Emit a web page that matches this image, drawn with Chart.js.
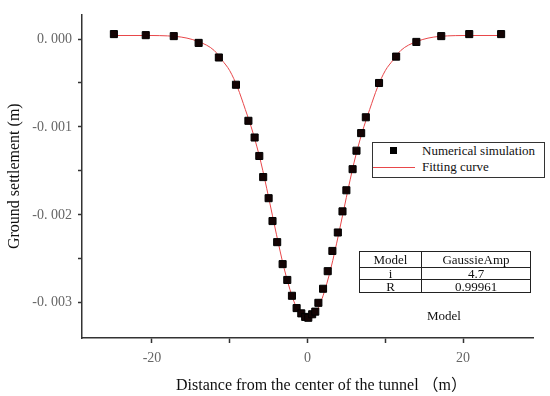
<!DOCTYPE html>
<html>
<head>
<meta charset="utf-8">
<script src="https://cdn.jsdelivr.net/npm/chart.js@4"></script>
<style>
  body { margin: 0; background: #fff; }
  #wrap { position: relative; width: 550px; height: 396px; }
  #grafico { position: absolute; left: 0; top: 0; }
  .serif { font-family: "Liberation Serif", "Noto Sans CJK SC", serif; color: #111; }
  #leyenda {
    position: absolute; left: 372px; top: 142px; width: 171px; height: 34px;
    border: 1px solid #333; background: #fff; font-size: 13px;
  }
  #leyenda .fila { position: absolute; left: 0; height: 16px; line-height: 16px; width: 100%; }
  #leyenda .txt { position: absolute; left: 49px; top: 0; white-space: nowrap; }
  #leyenda .cuadro { position: absolute; left: 17px; top: 4px; width: 7px; height: 7px; background: #000; }
  #leyenda .linea { position: absolute; left: 0; top: 8px; width: 42px; height: 0; border-top: 1px solid #e8474a; }
  #tabla {
    position: absolute; left: 359px; top: 251px; border-collapse: collapse; font-size: 13px;
  }
  #tabla td { border: 1.5px solid #222; padding: 0; text-align: center; line-height: 11px; }
  #modelo { position: absolute; left: 427px; top: 308px; font-size: 13px; }
  #tituloX { position: absolute; left: 176px; top: 371px; font-size: 16px; white-space: nowrap; }
</style>
</head>
<body>
<div id="wrap">
  <canvas id="grafico" width="550" height="396"></canvas>
  <div id="leyenda" class="serif"></div>
  <table id="tabla" class="serif">
    <tr style="height:16px"><td style="width:61px">Model</td><td style="width:108px">GaussieAmp</td></tr>
    <tr style="height:12px"><td>i</td><td>4.7</td></tr>
    <tr style="height:13px"><td>R</td><td>0.99961</td></tr>
  </table>
  <div id="modelo" class="serif">Model</div>
  <div id="tituloX" class="serif">Distance from the center of the tunnel （m）</div>
</div>
<script>
// Simulación numérica (distancia en m, asentamiento en m)
const distancias = [-24.9, -20.8, -17.2, -14.0, -11.4, -9.2, -7.6, -6.8, -6.2, -5.7,
    -5.0, -4.5, -3.9, -3.2, -2.6, -2.0, -1.4, -0.8, -0.3, 0.1,
    0.6, 1.0, 1.4, 2.0, 2.6, 3.2, 3.9, 4.5, 5.0, 5.8,
    6.3, 6.9, 7.5, 9.2, 11.4, 14.0, 17.2, 20.8, 24.9];
const asentamientos = [0.000056, 0.000044, 0.000033, -0.000044, -0.00021, -0.00052, -0.00093, -0.00112, -0.00133, -0.00157,
    -0.00181, -0.00207, -0.00231, -0.00256, -0.00274, -0.00292, -0.00306, -0.00312, -0.00316, -0.00317,
    -0.00313, -0.00310, -0.00300, -0.00284, -0.00264, -0.00241, -0.00220, -0.00196, -0.00172, -0.00148,
    -0.00127, -0.00107, -0.00089, -0.00050, -0.00020, -0.000033, 0.000033, 0.000056, 0.000056];

// Curva de ajuste
const ajusteX = [-25, -21, -17, -14, -12, -11, -10, -9, -8, -7, -6, -5, -4, -3, -2, -1, 0,
    1, 2, 3, 4, 5, 6, 7, 8, 9, 10, 11, 12, 14, 17, 21, 25];
const ajusteY = [0.00004, 0.00004, 0.00003, -0.00003, -0.00013, -0.00024, -0.00036, -0.00055, -0.00080, -0.00107,
    -0.00140, -0.00180, -0.00222, -0.00261, -0.00292, -0.00313, -0.00320,
    -0.00313, -0.00292, -0.00261, -0.00222, -0.00180, -0.00140, -0.00107, -0.00080, -0.00055,
    -0.00036, -0.00024, -0.00013, -0.00003, 0.00003, 0.00004, 0.00004];

// Marcas de los ejes (las etiquetadas son las mayores)
const ticksX = [-20, -10, 0, 10, 20];
const etiquetasX = [-20, 0, 20];
const ticksY = [0, -0.0005, -0.001, -0.0015, -0.002, -0.0025, -0.003];
const etiquetasY = [0, -0.001, -0.002, -0.003];

const fuenteSerif = '"Liberation Serif", "Noto Sans CJK SC", serif';

document.addEventListener('DOMContentLoaded', () => {
    const ctx = document.getElementById('grafico').getContext('2d');
    const puntos = distancias.map((x, i) => ({ x, y: asentamientos[i] }));
    const curva = ajusteX.map((x, i) => ({ x, y: ajusteY[i] }));

    const grafico = new Chart(ctx, {
        type: 'scatter',
        data: {
            datasets: [{
                label: 'Numerical simulation',
                data: puntos,
                pointStyle: 'rect',
                pointRadius: 5,
                pointHoverRadius: 5,
                backgroundColor: '#140404',
                borderColor: '#000',
                borderWidth: 1,
                order: 0
            }, {
                label: 'Fitting curve',
                data: curva,
                showLine: true,
                borderColor: '#e8474a',
                borderWidth: 1,
                pointRadius: 0,
                cubicInterpolationMode: 'monotone',
                order: 1
            }]
        },
        options: {
            responsive: false,
            animation: false,
            layout: { padding: { top: 7, right: 17, left: 0, bottom: 0 } },
            plugins: {
                legend: { display: false },
                tooltip: { enabled: false }
            },
            scales: {
                x: {
                    type: 'linear',
                    min: -29,
                    max: 29,
                    afterBuildTicks: (eje) => { eje.ticks = ticksX.map(v => ({ value: v })); },
                    afterFit: (eje) => { eje.height = 58; },
                    border: { color: '#333', width: 1.5 },
                    grid: { drawOnChartArea: false, tickLength: 5, color: '#333', tickWidth: 1.5 },
                    ticks: {
                        color: '#666',
                        font: { family: fuenteSerif, size: 14 },
                        padding: 7,
                        maxRotation: 0,
                        callback: (v) => etiquetasX.includes(v) ? String(v) : ''
                    }
                },
                y: {
                    min: -0.0034,
                    max: 0.00028,
                    afterBuildTicks: (eje) => { eje.ticks = ticksY.map(v => ({ value: v })); },
                    afterFit: (eje) => { eje.width = 82; },
                    border: { color: '#333', width: 1.5 },
                    grid: { drawOnChartArea: false, tickLength: 4, color: '#333', tickWidth: 1.5 },
                    ticks: {
                        color: '#666',
                        font: { family: fuenteSerif, size: 14 },
                        padding: 6,
                        callback: (v) => etiquetasY.some(e => Math.abs(e - v) < 1e-9)
                            ? v.toFixed(3).replace('.', '. ') : ''
                    },
                    title: {
                        display: true,
                        text: 'Ground settlement (m)',
                        color: '#111',
                        font: { family: fuenteSerif, size: 16 },
                        padding: { top: 5, bottom: 0 }
                    }
                }
            }
        }
    });

    // Leyenda construida a partir de los datasets
    const leyenda = document.getElementById('leyenda');
    grafico.data.datasets.forEach((ds, i) => {
        const fila = document.createElement('div');
        fila.className = 'fila';
        fila.style.top = (i === 0 ? 0 : 16) + 'px';
        const marca = document.createElement('div');
        marca.className = i === 0 ? 'cuadro' : 'linea';
        const txt = document.createElement('div');
        txt.className = 'txt';
        txt.textContent = ds.label;
        fila.appendChild(marca);
        fila.appendChild(txt);
        leyenda.appendChild(fila);
    });
});
</script>
</body>
</html>
